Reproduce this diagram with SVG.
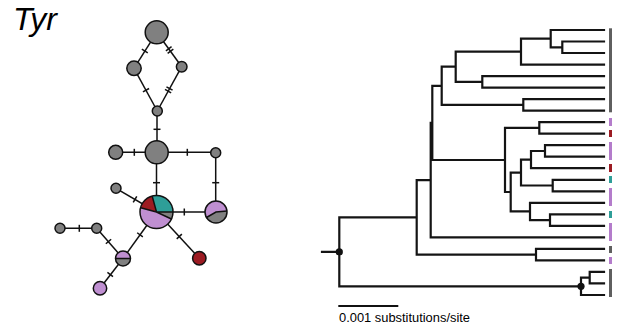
<svg xmlns="http://www.w3.org/2000/svg" xmlns:xlink="http://www.w3.org/1999/xlink" width="618" height="330" viewBox="0 0 618 330">
<style>
.edge{stroke:#111;stroke-width:1.5;fill:none}
.tick{stroke:#111;stroke-width:1.5}
.nd{stroke:#111;stroke-width:1.5}
.grey{fill:#808080}
.pur{fill:#bf8fd1}
.red{fill:#9c1b22}
.teal{fill:#2e9e98}
.tree{stroke:#141414;stroke-width:2.2;fill:none;stroke-linecap:square}
.bar{stroke:none}
.lbl{font-family:"Liberation Sans",Arial,sans-serif;fill:#000}
</style>
<defs>
<line id="t1" class="tick" x1="0" y1="-3.5" x2="0" y2="3.5"/>
<g id="t2"><line class="tick" x1="-1.5" y1="-3.5" x2="-1.5" y2="3.5"/><line class="tick" x1="1.5" y1="-3.5" x2="1.5" y2="3.5"/></g>
</defs>
<rect width="618" height="330" fill="#fff"/>
<text class="lbl" x="13" y="30" font-size="32" font-style="italic">Tyr</text>

<g id="connectors">
<line class="edge" x1="156.7" y1="32.3" x2="134" y2="68.3"/>
<line class="edge" x1="156.7" y1="32.3" x2="181.7" y2="66.7"/>
<line class="edge" x1="134" y1="68.3" x2="157.3" y2="111"/>
<line class="edge" x1="181.7" y1="66.7" x2="157.3" y2="111"/>
<line class="edge" x1="157" y1="111" x2="157" y2="152.3"/>
<line class="edge" x1="156.7" y1="152.3" x2="115.7" y2="152.3"/>
<line class="edge" x1="156.7" y1="152.3" x2="215.7" y2="152.3"/>
<line class="edge" x1="156.5" y1="152.3" x2="156.5" y2="212"/>
<line class="edge" x1="215.7" y1="152.7" x2="215.7" y2="212"/>
<line class="edge" x1="156.5" y1="212" x2="216" y2="212"/>
<line class="edge" x1="156.5" y1="212" x2="116" y2="188.3"/>
<line class="edge" x1="156.5" y1="212" x2="199.3" y2="258.3"/>
<line class="edge" x1="156.5" y1="212" x2="123" y2="258.5"/>
<line class="edge" x1="123" y1="258.5" x2="96.7" y2="228.3"/>
<line class="edge" x1="96.7" y1="228.3" x2="60" y2="228.3"/>
<line class="edge" x1="123" y1="258.5" x2="100" y2="288.3"/>
<use xlink:href="#t1" transform="translate(144.8,51) rotate(122.2)"/>
<use xlink:href="#t2" transform="translate(169.6,50) rotate(54)"/>
<use xlink:href="#t1" transform="translate(146,90.2) rotate(61.4)"/>
<use xlink:href="#t2" transform="translate(168.8,89.8) rotate(118.8)"/>
<use xlink:href="#t1" transform="translate(157,129.3) rotate(90)"/>
<use xlink:href="#t1" transform="translate(134.3,152.3)"/>
<use xlink:href="#t1" transform="translate(187.3,152.3)"/>
<use xlink:href="#t1" transform="translate(156.5,182.7) rotate(90)"/>
<use xlink:href="#t1" transform="translate(215.7,182.7) rotate(90)"/>
<use xlink:href="#t1" transform="translate(184.3,212)"/>
<use xlink:href="#t1" transform="translate(135,199.4) rotate(210.3)"/>
<use xlink:href="#t1" transform="translate(179.3,236.5) rotate(47.3)"/>
<use xlink:href="#t1" transform="translate(140,234.8) rotate(125.8)"/>
<use xlink:href="#t1" transform="translate(108.5,241.5) rotate(228.9)"/>
<use xlink:href="#t1" transform="translate(79.3,228.3)"/>
<use xlink:href="#t1" transform="translate(110.2,274.5) rotate(127.7)"/>
</g>

<g id="n1"><circle class="nd grey" cx="156.7" cy="32.3" r="11.5"/></g>
<g id="n2"><circle class="nd grey" cx="134" cy="68.3" r="7.2"/></g>
<g id="n3"><circle class="nd grey" cx="181.7" cy="66.7" r="5.3"/></g>
<g id="n4"><circle class="nd grey" cx="157.3" cy="111" r="5"/></g>
<g id="n5"><circle class="nd grey" cx="156.7" cy="152.3" r="11.5"/></g>
<g id="n6"><circle class="nd grey" cx="115.7" cy="152.3" r="7"/></g>
<g id="n7"><circle class="nd grey" cx="215.7" cy="152.7" r="5"/></g>
<g id="n8">
<path class="pur" d="M156.5 212 L171.4 219.0 A16.5 16.5 0 0 1 140.6 207.7 Z"/>
<path class="red" d="M156.5 212 L140.6 207.7 A16.5 16.5 0 0 1 152.2 196.1 Z"/>
<path class="teal" d="M156.5 212 L152.2 196.1 A16.5 16.5 0 0 1 173 212 Z"/>
<path class="grey" d="M156.5 212 L173 212 A16.5 16.5 0 0 1 171.4 219.0 Z"/>
<path class="edge" d="M140.6 207.7 L156.5 212 L171.4 219.0 M152.2 196.1 L156.5 212 L173 212"/>
<circle class="nd" cx="156.5" cy="212" r="16.5" fill="none"/>
</g>
<g id="n9">
<path class="grey" d="M216 212 L226.96 211.04 A11 11 0 0 1 206.47 217.5 Z"/>
<path class="pur" d="M216 212 L206.47 217.5 A11 11 0 1 1 226.96 211.04 Z"/>
<path class="edge" d="M206.47 217.5 L216 212 L226.96 211.04"/>
<circle class="nd" cx="216" cy="212" r="11" fill="none"/>
</g>
<g id="n10"><circle class="nd grey" cx="116" cy="188.3" r="5"/></g>
<g id="n11"><circle class="nd grey" cx="60" cy="228.3" r="5"/></g>
<g id="n12"><circle class="nd grey" cx="96.7" cy="228.3" r="5"/></g>
<g id="n13">
<path class="pur" d="M115.5 258.5 A7.5 7.5 0 0 1 130.5 258.5 Z"/>
<path class="grey" d="M115.5 258.5 A7.5 7.5 0 0 0 130.5 258.5 Z"/>
<line class="edge" x1="115.5" y1="258.5" x2="130.5" y2="258.5"/>
<circle class="nd" cx="123" cy="258.5" r="7.5" fill="none"/>
</g>
<g id="n14"><circle class="nd pur" cx="100" cy="288.3" r="6.7"/></g>
<g id="n15"><circle class="nd red" cx="199.3" cy="258.3" r="6.7"/></g>

<g id="tree">
<path class="tree" d="M604 41.5 H562.3 V53.0 H604 M604 30 H550.7 V47.3 H562.3 M550.7 38.6 H521 V64.6 H604 M604 76.1 H482.3 V87.6 H604 M521 51.6 H455.7 V81.8 H482.3 M604 99.1 H523.3 V110.6 H604 M455.7 66.7 H441.7 V104.9 H523.3 M604 122.2 H539.3 V133.7 H604 M604 145.2 H545 V156.7 H604 M545 151.0 H531 V168.2 H604 M604 179.8 H552.7 V191.3 H604 M531 159.6 H521 V185.5 H552.7 M604 214.3 H550 V225.8 H604 M604 202.8 H530 V220.1 H550 M521 172.6 H510.7 V211.4 H530 M539.3 127.9 H505 V192.0 H510.7 M441.7 85.8 H432.3 V160.0 H505 M432.3 122.9 H430.7 V237.4 H604 M604 248.9 H536 V260.4 H604 M430.7 180.1 H416.7 V254.6 H536 M604 271.9 H589.7 V283.4 H604 M589.7 277.7 H581 V295.0 H604 M416.7 217.4 H339.3 V286.3 H581 M322 251.9 H339.3"/>
<circle cx="339.3" cy="251.9" r="3.6" fill="#111"/>
<circle cx="581" cy="286.3" r="3.6" fill="#111"/>
</g>

<g id="bars">
<rect class="bar" x="609" y="28.3" width="3" height="84" fill="#5f5f5f"/>
<rect class="bar" x="609" y="118" width="3" height="8" fill="#b47ccb"/>
<rect class="bar" x="609" y="130" width="3" height="7" fill="#9c1b22"/>
<rect class="bar" x="609" y="142" width="3" height="18" fill="#b47ccb"/>
<rect class="bar" x="609" y="164" width="3" height="8" fill="#9c1b22"/>
<rect class="bar" x="609" y="176" width="3" height="7" fill="#2e9e98"/>
<rect class="bar" x="609" y="188" width="3" height="18" fill="#b47ccb"/>
<rect class="bar" x="609" y="211" width="3" height="7" fill="#2e9e98"/>
<rect class="bar" x="609" y="223" width="3" height="18" fill="#b47ccb"/>
<rect class="bar" x="609" y="246" width="3" height="7" fill="#5f5f5f"/>
<rect class="bar" x="609" y="257" width="3" height="7" fill="#b47ccb"/>
<rect class="bar" x="609" y="269" width="3" height="28" fill="#5f5f5f"/>
</g>

<g id="scale">
<line x1="338.3" y1="306" x2="398.3" y2="306" stroke="#111" stroke-width="2"/>
<text class="lbl" x="339" y="321.5" font-size="12" textLength="131" lengthAdjust="spacingAndGlyphs">0.001 substitutions/site</text>
</g>
</svg>
